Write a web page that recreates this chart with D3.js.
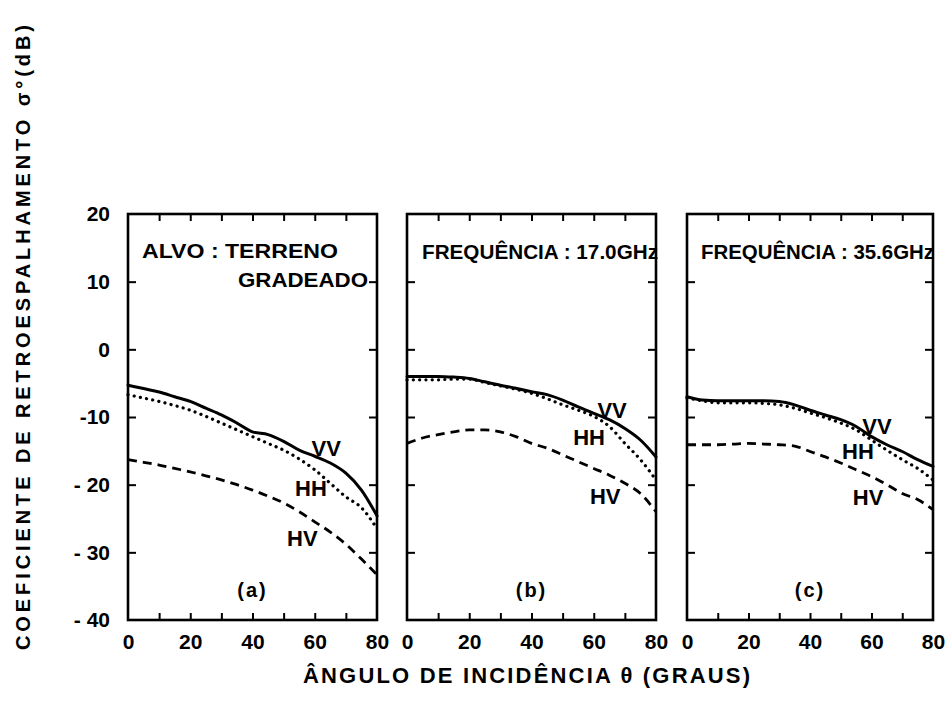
<!DOCTYPE html>
<html><head><meta charset="utf-8">
<script src="https://cdn.jsdelivr.net/npm/d3@7"></script>
<style>
html,body{margin:0;padding:0;background:#fff;}
text{font-family:"Liberation Sans","DejaVu Sans",sans-serif;fill:#000;font-weight:bold;}
</style></head>
<body><svg id="c" width="950" height="706"></svg>
<script>
// ---------- data ----------
const angles = [0,5,10,15,20,25,30,35,40,45,50,55,60,65,70,75,80];
const vvA = [-5.3,-5.8,-6.3,-7.0,-7.7,-8.7,-9.7,-10.9,-12.2,-12.6,-13.6,-14.9,-15.8,-16.8,-18.3,-20.8,-24.6];
const hhA = [-6.7,-7.2,-7.7,-8.3,-9.0,-9.9,-10.9,-11.9,-12.9,-13.9,-14.9,-16.2,-17.8,-19.8,-21.8,-23.4,-26.5];
const hvA = [-16.3,-16.7,-17.1,-17.6,-18.1,-18.7,-19.3,-20.0,-20.8,-21.7,-22.7,-24.0,-25.5,-27.0,-28.8,-31.0,-33.3];
const vvB = [-4.0,-4.0,-4.0,-4.1,-4.3,-4.8,-5.3,-5.75,-6.25,-6.7,-7.5,-8.5,-9.45,-10.4,-11.7,-13.4,-15.9];
const hhB = [-4.5,-4.5,-4.5,-4.4,-4.4,-4.9,-5.4,-5.9,-6.5,-7.3,-8.2,-9.0,-9.9,-11.4,-13.9,-16.3,-19.3];
const hvB = [-13.9,-13.1,-12.6,-12.2,-11.9,-11.9,-12.2,-12.9,-13.9,-14.6,-15.6,-16.6,-17.6,-18.6,-19.8,-21.3,-24.0];
const vvC = [-7.0,-7.5,-7.6,-7.6,-7.6,-7.6,-7.7,-8.2,-9.0,-9.7,-10.4,-11.4,-12.9,-14.1,-15.1,-16.3,-17.3];
const hhC = [-7.2,-7.6,-7.9,-7.9,-7.9,-8.0,-8.2,-8.7,-9.4,-10.1,-10.9,-11.9,-13.4,-14.9,-16.3,-17.6,-19.3];
const hvC = [-14.1,-14.1,-14.1,-14.0,-13.9,-14.0,-14.1,-14.3,-15.1,-15.9,-16.8,-17.8,-18.8,-20.0,-21.3,-22.2,-23.7];

const seriesNames = ["VV","HH","HV"];
const panelLetters = ["(a)","(b)","(c)"];
const xTickValues = [0,20,40,60,80];
const xMinorTicks = [10,20,30,40,50,60,70];
const yTickValues = [20,10,0,-10,-20,-30,-40];
const yTickLabels = ["20","10","0","-10","- 20","- 30","- 40"];
const yMinorTicks = [10,0,-10,-20,-30];
// series-label anchor points (data coords: angle, dB)
const labelAnglesA = [63.7,58.8,56], labelDbA = [-14.6,-20.5,-27.9];
const labelAnglesB = [65.9,58.5,63.7], labelDbB = [-8.95,-13,-21.7];
const labelAnglesC = [61.8,55.6,58.9], labelDbC = [-11.3,-15,-21.8];
const xTitle = "ÂNGULO DE INCIDÊNCIA θ (GRAUS)";
const yTitle = "COEFICIENTE DE RETROESPALHAMENTO σ°(dB)";

// ---------- layout ----------
const svg = d3.select("#c");
const yTop = 214, yBottom = 620;
const panels = [
  {x0:128, x1:377, series:[vvA,hhA,hvA], la:labelAnglesA, ld:labelDbA,
   note:[{t:"ALVO : TERRENO", x:142, y:258, len:196},{t:"GRADEADO", x:238, y:287, len:130}]},
  {x0:407, x1:656, series:[vvB,hhB,hvB], la:labelAnglesB, ld:labelDbB,
   note:[{t:"FREQUÊNCIA : 17.0GHz", x:422, y:259, len:236}]},
  {x0:687, x1:933, series:[vvC,hhC,hvC], la:labelAnglesC, ld:labelDbC,
   note:[{t:"FREQUÊNCIA : 35.6GHz", x:701, y:259, len:233}]}
];
const y = d3.scaleLinear().domain([-40,20]).range([yBottom, yTop]);
const styles = [
  {w:3, dash:null, cap:"round"},
  {w:3.2, dash:"0.1,6.2", cap:"round"},
  {w:2.8, dash:"9,6", cap:"butt"}
];

panels.forEach((p,i)=>{
  const x = d3.scaleLinear().domain([0,80]).range([p.x0,p.x1]);
  const g = svg.append("g");
  const tickStyle = sel => { sel.select(".domain").remove(); sel.selectAll("line").attr("stroke","#000").attr("stroke-width",2); };
  g.append("g").attr("transform",`translate(0,${yBottom})`)
    .call(d3.axisBottom(x).tickValues(xMinorTicks).tickSize(-7).tickFormat("")).call(tickStyle);
  g.append("g").attr("transform",`translate(0,${yTop})`)
    .call(d3.axisTop(x).tickValues(xMinorTicks).tickSize(-7).tickFormat("")).call(tickStyle);
  g.append("g").attr("transform",`translate(${p.x0},0)`)
    .call(d3.axisLeft(y).tickValues(yMinorTicks).tickSize(-8).tickFormat("")).call(tickStyle);
  g.append("g").attr("transform",`translate(${p.x1},0)`)
    .call(d3.axisRight(y).tickValues(yMinorTicks).tickSize(-8).tickFormat("")).call(tickStyle);
  const xa = g.append("g").attr("transform",`translate(0,${yBottom})`)
    .call(d3.axisBottom(x).tickValues(xTickValues).tickSize(0).tickPadding(14));
  xa.select(".domain").remove();
  xa.selectAll("text").attr("font-size",21).attr("font-family","Liberation Sans, sans-serif").attr("font-weight","bold").attr("fill","#000");
  g.append("rect").attr("x",p.x0).attr("y",yTop).attr("width",p.x1-p.x0).attr("height",yBottom-yTop)
    .attr("fill","none").attr("stroke","#000").attr("stroke-width",2.6);
  const line = d3.line().x((d,k)=>x(angles[k])).y(d=>y(d)).curve(d3.curveMonotoneX);
  p.series.forEach((s,j)=>{
    g.append("path").datum(s).attr("d",line).attr("fill","none").attr("stroke","#000")
      .attr("stroke-width",styles[j].w).attr("stroke-dasharray",styles[j].dash)
      .attr("stroke-linecap",styles[j].cap);
  });
  seriesNames.forEach((n,j)=>{
    g.append("text").attr("x",x(p.la[j])).attr("y",y(p.ld[j])).attr("dy","0.36em")
      .attr("text-anchor","middle").attr("font-size",22).text(n);
  });
  g.append("text").attr("x",(p.x0+p.x1)/2).attr("y",597).attr("text-anchor","middle")
    .attr("font-size",20).attr("font-weight","normal").attr("letter-spacing",2).text(panelLetters[i]);
  p.note.forEach(n=>{
    g.append("text").attr("x",n.x).attr("y",n.y).attr("font-size",20)
      .attr("textLength",n.len).attr("lengthAdjust","spacingAndGlyphs").text(n.t);
  });
  if(i===0){
    const ya = g.append("g").attr("transform",`translate(110,0)`)
      .call(d3.axisLeft(y).tickValues(yTickValues).tickSize(0).tickPadding(0)
        .tickFormat((d,k)=>yTickLabels[k]));
    ya.select(".domain").remove();
    ya.selectAll("text").attr("font-size",21).attr("font-family","Liberation Sans, sans-serif").attr("font-weight","bold").attr("fill","#000");
  }
});

svg.append("text").attr("x",303).attr("y",683).attr("font-size",22).attr("font-weight","normal")
  .attr("textLength",447).attr("lengthAdjust","spacing").text(xTitle);
svg.append("text").attr("transform","translate(30,650) rotate(-90)").attr("x",0).attr("y",0)
  .attr("font-size",20).attr("textLength",625).attr("lengthAdjust","spacing").text(yTitle);
</script></body></html>
